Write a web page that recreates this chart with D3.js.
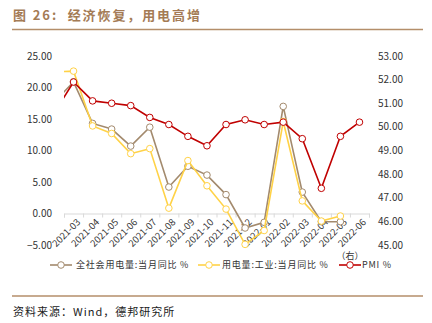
<!DOCTYPE html>
<html><head><meta charset="utf-8">
<script src="https://cdn.jsdelivr.net/npm/d3@7"></script>
<style>
body{margin:0;background:#fff;}
svg{display:block;font-family:"Noto Sans CJK SC","Noto Sans",sans-serif;}
</style></head>
<body><svg id="c" width="432" height="323"></svg>
<script>
const months = ["2021-02","2021-03","2021-04","2021-05","2021-06","2021-07","2021-08","2021-09","2021-10","2021-11","2021-12","2022-01","2022-02","2022-03","2022-04","2022-05","2022-06"];
const totalPower = [17.7, 20.9, 14.3, 13.4, 10.7, 13.7, 4.2, 7.5, 6.1, 3.0, -2.3, -1.4, 17.0, 3.4, -1.3, -1.3, null];
const industryPower = [22.5, 22.6, 13.9, 12.7, 9.5, 10.3, 0.85, 8.4, 4.4, 0.7, -4.9, -2.7, 14.6, 2.0, -1.2, -0.4, null];
const pmi = [50.6, 51.9, 51.1, 51.0, 50.9, 50.4, 50.1, 49.6, 49.2, 50.1, 50.3, 50.1, 50.2, 49.5, 47.4, 49.6, 50.2];
const leftTicks = [-5,0,5,10,15,20,25];
const rightTicks = [45,46,47,48,49,50,51,52,53];
const seriesNames = ["全社会用电量:当月同比 %","用电量:工业:当月同比 %","PMI %"];
const colors = ["#A38A6D","#FFD247","#C00000"];

const svg = d3.select("#c");
const x = d3.scaleLinear().domain([0.5, 16.5]).range([64, 369]);
const yL = d3.scaleLinear().domain([-5, 25]).range([245, 56]);
const yR = d3.scaleLinear().domain([45, 53]).range([245, 56]);

// title
svg.append("text").attr("x",13).attr("y",20).attr("fill","#A47B55")
  .attr("font-size",13).attr("font-weight","bold").attr("letter-spacing",1.9)
  .attr("xml:space","preserve").style("white-space","pre").text("图 26:  经济恢复，用电高增");
svg.append("line").attr("x1",12).attr("x2",423).attr("y1",29.5).attr("y2",29.5)
  .attr("stroke","#B48E6A").attr("stroke-width",1.5);
svg.append("line").attr("x1",12).attr("x2",423).attr("y1",296).attr("y2",296)
  .attr("stroke","#B48E6A").attr("stroke-width",1.5);
svg.append("text").attr("x",13).attr("y",316).attr("fill","#222")
  .attr("font-size",11).attr("letter-spacing",1).text("资料来源：Wind，德邦研究所");

// axes labels
const fmt = d3.format(".2f");
svg.append("g").selectAll("text").data(leftTicks).join("text")
  .attr("x",52).attr("y",d=>yL(d)).attr("dy","0.35em").attr("text-anchor","end")
  .attr("font-size",10).attr("fill","#333").text(d=>fmt(d));
svg.append("g").selectAll("text").data(rightTicks).join("text")
  .attr("x",378).attr("y",d=>yR(d)).attr("dy","0.35em").attr("text-anchor","start")
  .attr("font-size",10).attr("fill","#333").text(d=>fmt(d));

// x axis
const xa = svg.append("g").attr("transform",`translate(0,${yL(0)})`)
  .call(d3.axisBottom(x).tickValues(d3.range(0.5,17,1)).tickSize(4).tickFormat(""));
xa.select(".domain").attr("stroke","#D9D9D9");
xa.selectAll(".tick line").attr("stroke","#D9D9D9");
svg.append("g").selectAll("text").data(months.slice(1)).join("text")
  .attr("transform",(d,i)=>`translate(${x(i+1)+5},${yL(0)+7}) rotate(-45)`)
  .attr("text-anchor","end").attr("dy","0.35em")
  .attr("font-size",9.5).attr("fill","#333").text(d=>d);

// clip
svg.append("clipPath").attr("id","clip").append("rect")
  .attr("x",64).attr("y",20).attr("width",305).attr("height",260);

const series = [
  {vals: totalPower, y: yL, c: colors[0]},
  {vals: industryPower, y: yL, c: colors[1]},
  {vals: pmi, y: yR, c: colors[2]}
];
const g = svg.append("g").attr("clip-path","url(#clip)");
series.forEach(s=>{
  const pts = s.vals.map((v,i)=>({i,v})).filter(d=>d.v!==null);
  g.append("path").datum(pts).attr("fill","none").attr("stroke",s.c).attr("stroke-width",1.6)
    .attr("d", d3.line().x(d=>x(d.i)).y(d=>s.y(d.v)));
  g.selectAll(null).data(pts).join("circle").attr("cx",d=>x(d.i)).attr("cy",d=>s.y(d.v))
    .attr("r",3.3).attr("fill","#fff").attr("stroke",s.c).attr("stroke-width",1);
});

// legend
const leg = [{x:50,tx:76},{x:198,tx:222},{x:339,tx:362}];
leg.forEach((l,k)=>{
  const gl = svg.append("g");
  gl.append("line").attr("x1",l.x).attr("x2",l.x+22).attr("y1",265).attr("y2",265)
    .attr("stroke",colors[k]).attr("stroke-width",1.6);
  gl.append("circle").attr("cx",l.x+11).attr("cy",265).attr("r",3.3)
    .attr("fill","#fff").attr("stroke",colors[k]);
  gl.append("text").attr("x",l.tx).attr("y",265).attr("dy","0.35em")
    .attr("font-size",9).attr("fill","#333").attr("letter-spacing",0.8).text(seriesNames[k]);
});
svg.append("text").attr("x",350).attr("y",256).attr("dy","0.35em").attr("text-anchor","middle")
  .attr("font-size",9).attr("fill","#333").text("（右）");
</script></body></html>
